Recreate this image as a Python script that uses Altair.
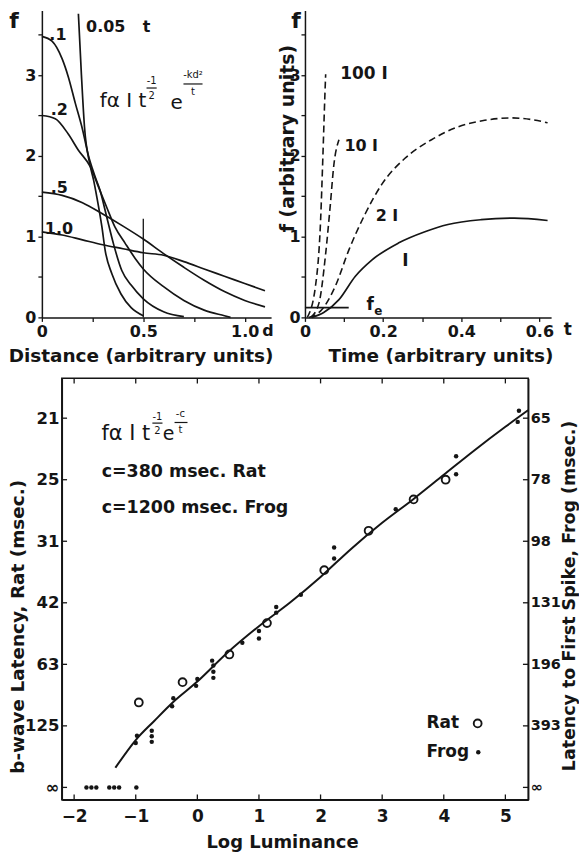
import altair as alt
import pandas as pd

FONT = "DejaVu Sans"
INK = "#151515"

# ---------------- Panel A : f versus distance (curves for t) ----------------
A_t005_d = [0.18, 0.195, 0.21, 0.236, 0.255, 0.271, 0.296, 0.312, 0.345, 0.39, 0.44, 0.50]
A_t005_f = [3.76, 3.00, 2.36, 1.90, 1.70, 1.49, 1.12, 0.83, 0.54, 0.29, 0.12, 0.02]
A_t01_d = [0, 0.05, 0.10, 0.13, 0.165, 0.20, 0.23, 0.26, 0.287, 0.32, 0.353, 0.394, 0.44, 0.50, 0.60, 0.70]
A_t01_f = [3.48, 3.42, 3.20, 2.98, 2.65, 2.33, 2.00, 1.76, 1.57, 1.24, 0.91, 0.58, 0.40, 0.23, 0.07, 0.01]
A_t02_d = [0, 0.066, 0.13, 0.18, 0.24, 0.28, 0.32, 0.36, 0.41, 0.46, 0.50, 0.60, 0.70, 0.80, 0.90, 0.93]
A_t02_f = [2.50, 2.46, 2.27, 2.07, 1.86, 1.61, 1.36, 1.12, 0.92, 0.73, 0.60, 0.38, 0.21, 0.09, 0.02, 0.0]
A_t05_d = [0, 0.1, 0.2, 0.3, 0.4, 0.5, 0.6, 0.7, 0.8, 0.9, 1.0, 1.1]
A_t05_f = [1.55, 1.51, 1.42, 1.28, 1.13, 0.97, 0.79, 0.62, 0.46, 0.32, 0.21, 0.13]
A_t10_d = [0, 0.1, 0.2, 0.3, 0.4, 0.5, 0.6, 0.7, 0.8, 0.9, 1.0, 1.1]
A_t10_f = [1.06, 1.02, 0.96, 0.90, 0.85, 0.80, 0.77, 0.69, 0.60, 0.51, 0.42, 0.33]
A_marker_d = [0.5]
A_marker_f = [1.22]
A_xticks = [0, 0.25, 0.5, 0.75, 1.0]
A_yticks = [0, 0.5, 1, 1.5, 2, 2.5, 3, 3.5]
A_text = ["f", ".1", ".2", ".5", "1.0", "0.05", "t", "d"]
A_text_x = [-0.138, 0.079, 0.086, 0.086, 0.084, 0.315, 0.516, 1.115]
A_text_y = [3.664, 3.50, 2.57, 1.60, 1.10, 3.59, 3.59, -0.17]
A_text_size = [22, 16, 16, 16, 16, 16, 16, 16]
A_form = ["fα I t", "-1", "2", "e", "-kd²", "t"]
A_form_x = [0.400, 0.541, 0.541, 0.664, 0.745, 0.745]
A_form_y = [2.68, 2.93, 2.74, 2.65, 3.00, 2.79]
A_form_size = [20, 10, 10, 20, 10, 10]
A_bar_x = [0.516, 0.698]
A_bar_x2 = [0.566, 0.792]
A_bar_y = [2.84, 2.89]

# ---------------- Panel B : f versus time (intensities) ----------------
B_I_t = [0.018, 0.048, 0.087, 0.129, 0.171, 0.239, 0.307, 0.366, 0.451, 0.536, 0.621]
B_I_f = [0.0, 0.06, 0.22, 0.51, 0.71, 0.92, 1.06, 1.15, 1.21, 1.23, 1.20]
B_2I_t = [0.01, 0.044, 0.078, 0.112, 0.154, 0.197, 0.256, 0.324, 0.392, 0.46, 0.528, 0.579, 0.621]
B_2I_f = [0.0, 0.10, 0.39, 0.83, 1.28, 1.65, 1.97, 2.20, 2.36, 2.44, 2.47, 2.45, 2.41]
B_10I_t = [0.015, 0.036, 0.053, 0.065, 0.074, 0.087]
B_10I_f = [0.0, 0.18, 0.79, 1.40, 1.89, 2.20]
B_100I_t = [0.006, 0.027, 0.040, 0.046, 0.051, 0.053]
B_100I_f = [0.0, 0.39, 1.20, 2.01, 2.75, 3.01]
B_fe_t = [0.0, 0.112]
B_fe_f = [0.12, 0.12]
B_xticks = [0, 0.1, 0.2, 0.3, 0.4, 0.5, 0.6]
B_yticks = [0, 0.5, 1, 1.5, 2, 2.5, 3, 3.5]
B_text = ["f", "100 I", "10 I", "2 I", "I", "f", "e", "t"]
B_text_x = [-0.023, 0.151, 0.144, 0.210, 0.257, 0.167, 0.188, 0.673]
B_text_y = [3.664, 3.01, 2.12, 1.26, 0.70, 0.15, 0.08, -0.16]
B_text_size = [22, 17, 16, 16, 17, 17, 12, 17]

# ---------------- Panel C : latency versus log luminance ----------------
C_fit_x = [-1.33, -1.0, -0.7, -0.4, 0.0, 0.5, 1.0, 1.5, 2.0, 2.5, 3.0, 3.5, 4.0, 4.5, 5.0, 5.37]
C_fit_y = [0.32, 0.77, 1.08, 1.38, 1.72, 2.20, 2.62, 3.00, 3.42, 3.88, 4.30, 4.68, 5.08, 5.48, 5.86, 6.13]
C_rat_x = [-0.95, -0.24, 0.52, 1.13, 2.06, 2.78, 3.51, 4.03]
C_rat_y = [1.38, 1.71, 2.16, 2.67, 3.53, 4.17, 4.68, 5.00]
C_frog_x = [-1.80, -1.72, -1.64, -1.43, -1.35, -1.27, -0.99,
            -1.00, -0.98, -0.74, -0.74, -0.74, -0.41, -0.39, -0.02, 0.00,
            0.26, 0.26, 0.26, 0.24, 0.73, 1.00, 1.00, 1.28, 1.28, 1.68,
            2.22, 2.22, 3.22, 4.20, 4.20, 5.20, 5.22]
C_frog_y = [0, 0, 0, 0, 0, 0, 0,
            0.72, 0.84, 0.74, 0.83, 0.92, 1.32, 1.45, 1.65, 1.76,
            1.78, 1.88, 1.98, 2.06, 2.35, 2.42, 2.54, 2.84, 2.93, 3.13,
            3.72, 3.90, 4.52, 5.09, 5.38, 5.94, 6.12]
C_ticks_x = [-2, -1, 0, 1, 2, 3, 4, 5]
C_ticks_y = [0, 1, 2, 3, 4, 5, 6]
C_left_labels = ["∞", "125", "63", "42", "31", "25", "21"]
C_right_labels = ["∞", "393", "196", "131", "98", "78", "65"]
C_ltext = ["c=380 msec. Rat", "c=1200 msec. Frog", "Rat", "Frog"]
C_ltext_x = [-1.553, -1.553, 3.72, 3.72]
C_ltext_y = [5.12, 4.54, 1.04, 0.57]
C_ltext_size = [17.5, 17.5, 17, 17]
C_form = ["fα I t", "-1", "2", "e", "-c", "t"]
C_form_x = [-1.16, -0.647, -0.647, -0.469, -0.275, -0.275]
C_form_y = [5.75, 6.02, 5.79, 5.74, 6.06, 5.81]
C_form_size = [21, 10, 10, 19, 10, 10]
C_bar_x = [-0.730, -0.370]
C_bar_x2 = [-0.566, -0.160]
C_bar_y = [5.92, 5.93]
C_leg_rat_x, C_leg_rat_y = [4.55], [1.04]
C_leg_frog_x, C_leg_frog_y = [4.56], [0.57]

# ============================ build ============================
def curves(pairs):
    rows = []
    for name, xs, ys in pairs:
        rows += [{"x": a, "y": b, "s": name} for a, b in zip(xs, ys)]
    return pd.DataFrame(rows)


def txt(labels, xs, ys, sizes, X, Y, align="center", weight="bold"):
    df = pd.DataFrame({"label": labels, "x": xs, "y": ys, "size": sizes})
    return alt.Chart(df).mark_text(font=FONT, color=INK, align=align, baseline="middle",
                                   fontWeight=weight).encode(
        x=X, y=Y, text="label:N", size=alt.Size("size:Q", scale=None, legend=None))


def bars(xs, x2s, ys, X, Y):
    df = pd.DataFrame({"x": xs, "x2": x2s, "y": ys})
    return alt.Chart(df).mark_rule(color=INK, strokeWidth=1.2).encode(x=X, x2="x2:Q", y=Y)


def spacer(w, h):
    return alt.Chart(pd.DataFrame({"v": [0]})).mark_point(opacity=0).encode(
        x=alt.value(0), y=alt.value(0)).properties(width=w, height=h)


# ---- Panel A
xA = alt.Scale(domain=[0, 1.13], nice=False, zero=False)
yT = alt.Scale(domain=[0, 3.8], nice=False, zero=False)
axA_x = alt.Axis(values=A_xticks, title="Distance (arbitrary units)",
                 labelExpr="datum.value==0?'0':datum.value==0.5?'0.5':datum.value==1?'1.0':''",
                 labelFontSize=16, titleFontSize=18.5, tickSize=4, labelPadding=2,
                 labelFlush=False, labelOverlap=False, titleX=99, titleY=38,
                 titleAlign="center", titleBaseline="middle")
axA_y = alt.Axis(values=A_yticks, title=None, labelExpr="datum.value % 1 == 0 ? format(datum.value, 'd') : ''",
                 labelFontSize=16, tickSize=4, labelPadding=2, labelOverlap=False, labelFlush=False)
XA = alt.X("x:Q", scale=xA, axis=axA_x)
YA = alt.Y("y:Q", scale=yT, axis=axA_y)

dfA = curves([("0.05", A_t005_d, A_t005_f), ("0.1", A_t01_d, A_t01_f), ("0.2", A_t02_d, A_t02_f),
              ("0.5", A_t05_d, A_t05_f), ("1.0", A_t10_d, A_t10_f)])
A_lines = alt.Chart(dfA).mark_line(color=INK, strokeWidth=1.7, interpolate="monotone").encode(
    x=XA, y=YA, detail="s:N")
A_mark = alt.Chart(pd.DataFrame({"x": A_marker_d, "y": [0.0], "y2": A_marker_f})).mark_rule(
    color=INK, strokeWidth=1.3).encode(x=XA, y=YA, y2="y2:Q")
panelA = alt.layer(
    A_lines, A_mark,
    txt(A_text, A_text_x, A_text_y, A_text_size, XA, YA),
    txt(A_form, A_form_x, A_form_y, A_form_size, XA, YA, weight="normal"),
    bars(A_bar_x, A_bar_x2, A_bar_y, XA, YA),
).properties(width=230, height=308)

# ---- Panel B
xB = alt.Scale(domain=[0, 0.63], nice=False, zero=False)
axB_x = alt.Axis(values=B_xticks, title="Time (arbitrary units)",
                 labelExpr="datum.value==0?'0':datum.value==0.2?'0.2':datum.value==0.4?'0.4':datum.value==0.6?'0.6':''",
                 labelFontSize=16, titleFontSize=18.5, tickSize=4, labelPadding=2,
                 labelFlush=False, labelOverlap=False, titleX=136, titleY=38,
                 titleAlign="center", titleBaseline="middle")
axB_y = alt.Axis(values=B_yticks, title="f  (arbitrary  units)",
                 labelExpr="datum.value % 1 == 0 ? format(datum.value, 'd') : ''",
                 labelFontSize=16, tickSize=4, labelPadding=1, labelOverlap=False, labelFlush=False,
                 titleFontSize=19, titleAngle=270, titleX=-18, titleY=128,
                 titleAlign="center", titleBaseline="middle")
XB = alt.X("x:Q", scale=xB, axis=axB_x)
YB = alt.Y("y:Q", scale=yT, axis=axB_y)

dfB_solid = curves([("I", B_I_t, B_I_f), ("fe", B_fe_t, B_fe_f)])
dfB_dash = curves([("2I", B_2I_t, B_2I_f), ("10I", B_10I_t, B_10I_f), ("100I", B_100I_t, B_100I_f)])
B_solid = alt.Chart(dfB_solid).mark_line(color=INK, strokeWidth=1.7, interpolate="monotone").encode(
    x=XB, y=YB, detail="s:N")
B_dash = alt.Chart(dfB_dash).mark_line(color=INK, strokeWidth=1.6, interpolate="monotone",
                                       strokeDash=[7, 4]).encode(x=XB, y=YB, detail="s:N")
panelB = alt.layer(
    B_solid, B_dash,
    txt(B_text, B_text_x, B_text_y, B_text_size, XB, YB),
).properties(width=247, height=308)

# ---- Panel C
xC = alt.Scale(domain=[-2.2, 5.37], nice=False, zero=False)
yC = alt.Scale(domain=[-0.2, 6.65], nice=False, zero=False)
axC_x = alt.Axis(values=C_ticks_x, title="Log  Luminance", format="d", labelFontSize=17,
                 titleFontSize=18, tickSize=0, labelPadding=9, labelFlush=False, labelOverlap=False,
                 titleX=221, titleY=43, titleAlign="center", titleBaseline="middle")
left_expr = "[" + ",".join("'%s'" % s for s in C_left_labels) + "][datum.value]"
right_expr = "[" + ",".join("'%s'" % s for s in C_right_labels) + "][datum.value]"
axC_yl = alt.Axis(values=C_ticks_y, labelExpr=left_expr, title="b-wave  Latency,  Rat  (msec.)",
                  labelFontSize=16.5, titleFontSize=18.5, tickSize=0, labelPadding=3, labelFlush=False,
                  labelOverlap=False, titleAngle=270, titleX=-44, titleY=249,
                  titleAlign="center", titleBaseline="middle")
axC_yr = alt.Axis(values=C_ticks_y, labelExpr=right_expr, orient="right",
                  title="Latency  to  First  Spike,  Frog  (msec.)",
                  labelFontSize=14.5, titleFontSize=17.5, tickSize=0, labelPadding=2, labelFlush=False,
                  labelOverlap=False, titleAngle=270, titleX=41, titleY=218,
                  titleAlign="center", titleBaseline="middle")
XC = alt.X("x:Q", scale=xC, axis=axC_x)
YC = alt.Y("y:Q", scale=yC, axis=axC_yl)

tick_len = 0.085
vt = pd.DataFrame({"x": C_ticks_x * 2,
                   "y": [-0.2] * len(C_ticks_x) + [6.65] * len(C_ticks_x),
                   "y2": [-0.2 + tick_len] * len(C_ticks_x) + [6.65 - tick_len] * len(C_ticks_x)})
ht = pd.DataFrame({"y": C_ticks_y * 2,
                   "x": [-2.2] * len(C_ticks_y) + [5.37 - tick_len] * len(C_ticks_y),
                   "x2": [-2.2 + tick_len] * len(C_ticks_y) + [5.37] * len(C_ticks_y)})
C_vt = alt.Chart(vt).mark_rule(color=INK, strokeWidth=1.3).encode(x=XC, y=YC, y2="y2:Q")
C_ht = alt.Chart(ht).mark_rule(color=INK, strokeWidth=1.3).encode(x=XC, x2="x2:Q", y=YC)
C_fit = alt.Chart(pd.DataFrame({"x": C_fit_x, "y": C_fit_y})).mark_line(
    color=INK, strokeWidth=2, interpolate="monotone").encode(x=XC, y=YC)
rat_df = pd.DataFrame({"x": C_rat_x + C_leg_rat_x, "y": C_rat_y + C_leg_rat_y})
frog_df = pd.DataFrame({"x": C_frog_x + C_leg_frog_x, "y": C_frog_y + C_leg_frog_y})
C_rat = alt.Chart(rat_df).mark_point(shape="circle", filled=False, size=62, strokeWidth=1.9,
                                     color=INK, opacity=1).encode(x=XC, y=YC)
C_frog = alt.Chart(frog_df).mark_circle(size=20, color=INK, opacity=1).encode(x=XC, y=YC)
groupC = alt.layer(
    C_vt, C_ht, C_fit, C_rat, C_frog,
    txt(C_ltext, C_ltext_x, C_ltext_y, C_ltext_size, XC, YC, align="left"),
    txt(C_form, C_form_x, C_form_y, C_form_size, XC, YC, weight="normal"),
    bars(C_bar_x, C_bar_x2, C_bar_y, XC, YC),
)
right_axis = alt.Chart(pd.DataFrame({"y": C_ticks_y})).mark_point(opacity=0).encode(
    y=alt.Y("y:Q", scale=yC, axis=axC_yr))
panelC = alt.layer(groupC, right_axis).resolve_scale(y="independent").properties(
    width=468, height=423, view=alt.ViewBackground(stroke=INK, strokeWidth=1.5))

top = alt.hconcat(panelA, panelB, spacing=34, bounds="flush")
bottom = alt.hconcat(spacer(20, 423), panelC, spacing=0, bounds="flush")
chart = alt.vconcat(top, bottom, spacing=10).properties(padding=0).configure_axis(
    labelFont=FONT, titleFont=FONT, labelColor=INK, titleColor=INK, domainColor=INK,
    tickColor=INK, domainWidth=1.5, tickWidth=1.3, grid=False,
    titleFontWeight="bold", labelFontWeight="bold"
).configure_view(stroke=None)

chart.save("out.html", embed_options={"renderer": "svg", "actions": False})
